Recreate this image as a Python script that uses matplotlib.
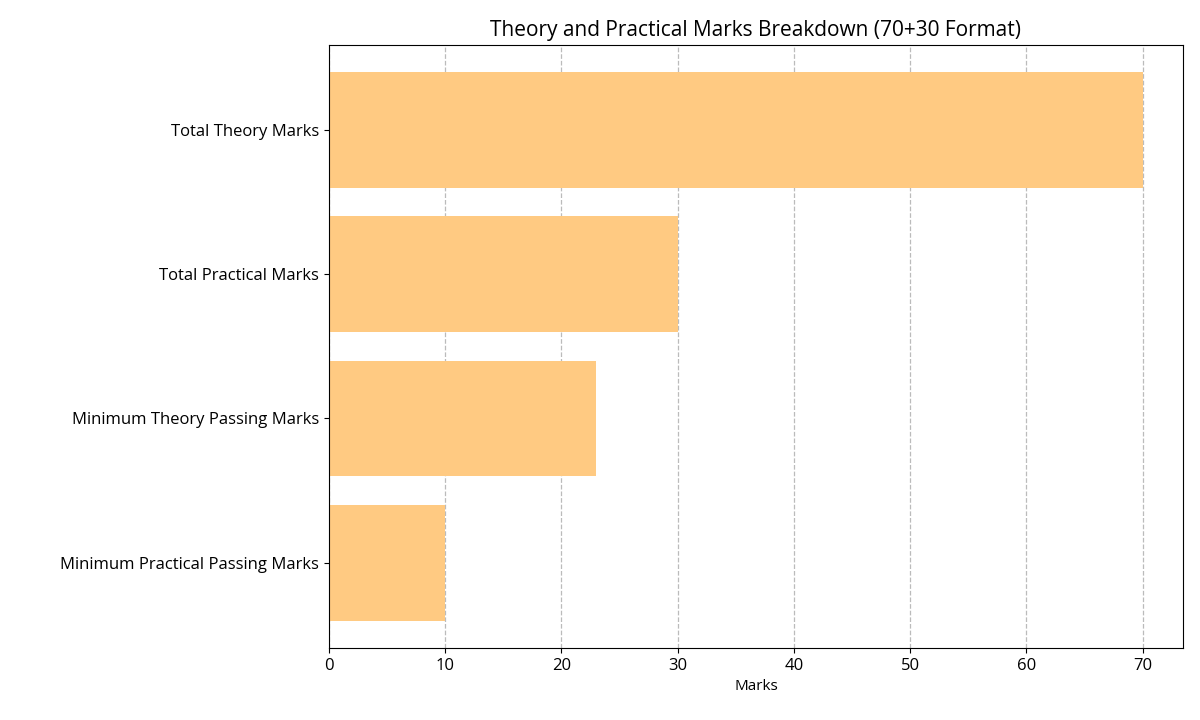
import matplotlib
matplotlib.use("Agg")
import matplotlib.pyplot as plt

categories = ["Total Theory Marks", "Total Practical Marks",
              "Minimum Theory Passing Marks", "Minimum Practical Passing Marks"]
values = [70, 30, 23, 10]

plt.rcParams['font.family'] = ['Open Sans', 'DejaVu Sans']
fig, ax = plt.subplots(figsize=(12, 7.2), dpi=100)
fig.subplots_adjust(left=0.274, right=0.986, top=0.938, bottom=0.1)
ax.barh(categories, values, color='#FFCA82', height=0.8)
ax.invert_yaxis()
ax.grid(axis='x', linestyle='--', color='#bbbbbb', linewidth=0.9)
ax.set_axisbelow(True)
ax.set_xlabel("Marks", fontsize=11)
ax.set_title("Theory and Practical Marks Breakdown (70+30 Format)", fontsize=15)
ax.tick_params(labelsize=12)
fig.savefig("out.png")
